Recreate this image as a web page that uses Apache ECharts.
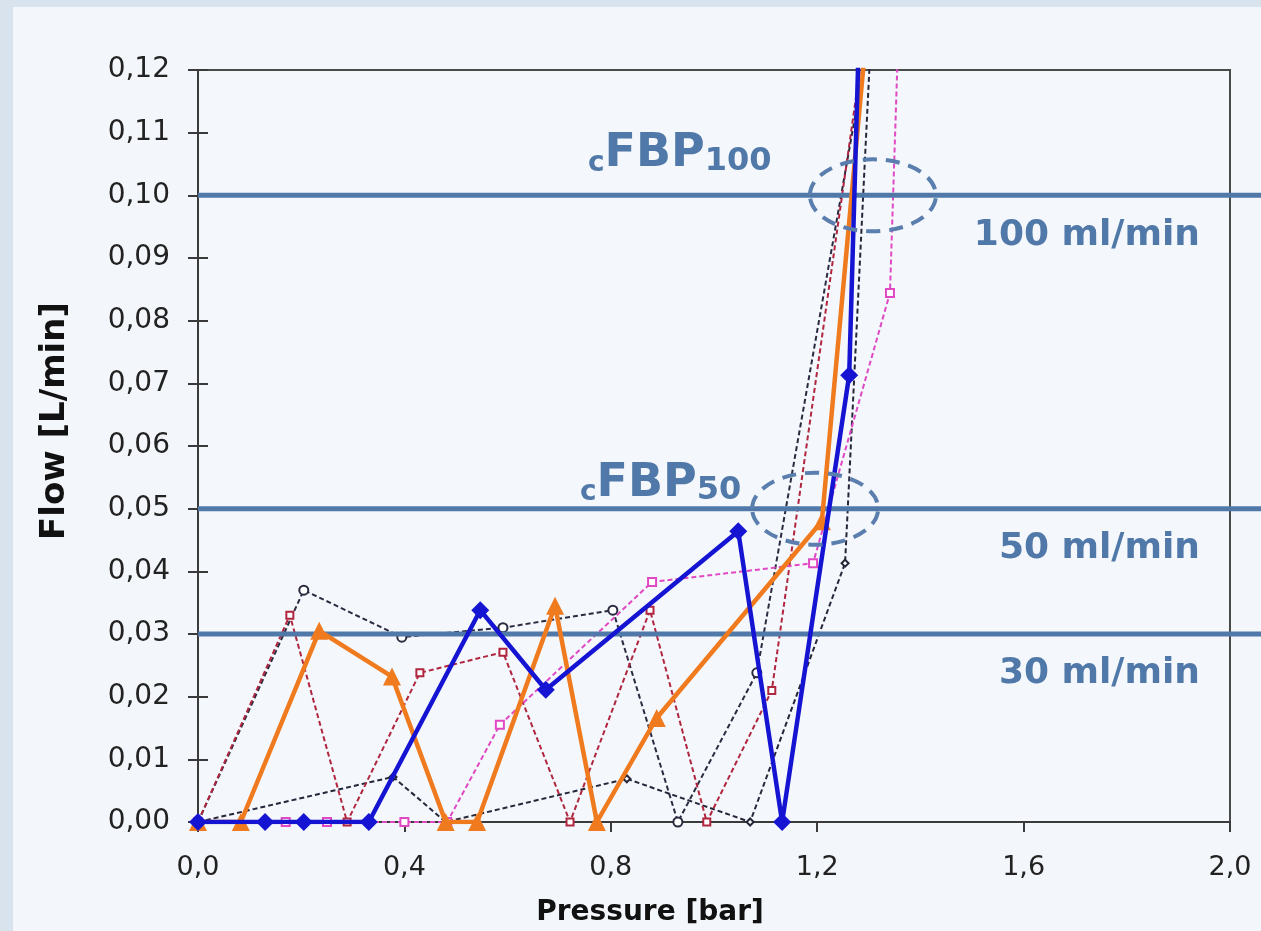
<!DOCTYPE html>
<html>
<head>
<meta charset="utf-8">
<script src="https://cdn.jsdelivr.net/npm/echarts@6/dist/echarts.min.js"></script>
<style>
  html, body { margin: 0; padding: 0; background: #d9e3ed; }
  #main { width: 1261px; height: 931px; }
</style>
</head>
<body>
<div id="main"></div>
<script>
// pressure [bar] / flow [L/min]
const blueX = [0, 0.13, 0.205, 0.331, 0.547, 0.674, 1.047, 1.132, 1.262, 1.30];
const blueY = [0, 0, 0, 0, 0.0338, 0.0211, 0.0464, 0, 0.0713, 0.18];

const orangeX = [0, 0.083, 0.235, 0.376, 0.48, 0.541, 0.692, 0.773, 0.889, 1.209, 1.30];
const orangeY = [0, 0, 0.0305, 0.0232, 0, 0, 0.0345, 0, 0.0166, 0.048, 0.13];

const circleX = [0, 0.205, 0.395, 0.591, 0.804, 0.93, 1.083, 1.30];
const circleY = [0, 0.037, 0.0295, 0.031, 0.0338, 0, 0.0238, 0.125];

const redX = [0, 0.178, 0.289, 0.43, 0.591, 0.721, 0.876, 0.986, 1.112, 1.30];
const redY = [0, 0.033, 0, 0.0238, 0.0271, 0, 0.0338, 0, 0.021, 0.13];

const pinkX = [0, 0.17, 0.25, 0.40, 0.483, 0.585, 0.88, 1.192, 1.341, 1.37];
const pinkY = [0, 0, 0, 0, 0, 0.0155, 0.0383, 0.0413, 0.0844, 0.158];

const darkX = [0, 0.378, 0.48, 0.831, 1.07, 1.254, 1.31];
const darkY = [0, 0.0072, 0, 0.0069, 0, 0.0413, 0.135];

// reference flows
const refLevels = [0.10, 0.05, 0.03];
const refLabels = ['100 ml/min', '50 ml/min', '30 ml/min'];
// circled crossing points
const cfbpPoints = [[1.308, 0.100], [1.196, 0.050]];

const steel = '#5078a8';
const font = 'DejaVu Sans, Verdana, sans-serif';

function pairs(xs, ys) {
  return xs.map((x, i) => [x, ys[i]]);
}

const chart = echarts.init(document.getElementById('main'));

function dashed(name, xs, ys, color, symbol, size) {
  return {
    name: name,
    type: 'line',
    data: pairs(xs, ys),
    symbol: symbol,
    symbolSize: size,
    showAllSymbol: true,
    lineStyle: { color: color, width: 2, type: [5, 3] },
    itemStyle: { color: color, borderWidth: 1.2 },
    z: 2
  };
}

const option = {
  animation: false,
  grid: [
    {
      left: 198, top: 70, right: 31, bottom: 109,
      show: true, backgroundColor: '#f4f7fb',
      borderColor: '#4a4a4a', borderWidth: 2
    },
    { left: 198, top: 70, right: 0, bottom: 109 }
  ],
  xAxis: [
    {
      type: 'value', gridIndex: 0, min: 0, max: 2, interval: 0.4,
      axisLine: { lineStyle: { color: '#3a3a3a', width: 2 } },
      axisTick: { show: true, length: 10, lineStyle: { color: '#3a3a3a', width: 2 } },
      splitLine: { show: false },
      axisLabel: {
        fontFamily: font, fontSize: 27, color: '#222', margin: 32,
        formatter: v => v.toFixed(1).replace('.', ',')
      }
    },
    {
      type: 'value', gridIndex: 0, min: 0, max: 2, interval: 0.4,
      axisLine: { show: false },
      axisTick: { show: true, inside: true, length: 10, lineStyle: { color: '#3a3a3a', width: 2 } },
      axisLabel: { show: false }, splitLine: { show: false }
    },
    { type: 'value', gridIndex: 1, min: 0, max: 1, show: false }
  ],
  yAxis: [
    {
      type: 'value', gridIndex: 0, min: 0, max: 0.12, interval: 0.01,
      axisLine: { show: true, lineStyle: { color: '#3a3a3a', width: 2 } },
      axisTick: { show: true, length: 10, lineStyle: { color: '#3a3a3a', width: 2 } },
      splitLine: { show: false },
      axisLabel: {
        fontFamily: font, fontSize: 28, color: '#222', margin: 28,
        formatter: v => v.toFixed(2).replace('.', ',')
      }
    },
    {
      type: 'value', gridIndex: 0, min: 0, max: 0.12, interval: 0.01, position: 'left',
      axisLine: { show: false },
      axisTick: { show: true, inside: true, length: 10, lineStyle: { color: '#3a3a3a', width: 2 } },
      axisLabel: { show: false }, splitLine: { show: false }
    },
    { type: 'value', gridIndex: 1, min: 0, max: 0.12, show: false }
  ],
  series: [
    dashed('dark', darkX, darkY, '#26263a', 'emptyDiamond', 7),
    dashed('circles', circleX, circleY, '#2a2a40', 'emptyCircle', 9),
    dashed('red', redX, redY, '#b0263e', 'emptyRect', 7),
    dashed('pink', pinkX, pinkY, '#e048c4', 'emptyRect', 8)
  ].concat(refLevels.map((lv, i) => ({
    name: refLabels[i],
    type: 'line',
    xAxisIndex: 2, yAxisIndex: 2,
    data: [[0, lv], [1, lv]],
    symbol: 'none',
    lineStyle: { color: steel, width: 5 },
    z: 3
  }))).concat([
    {
      name: 'orange', type: 'line', data: pairs(orangeX, orangeY),
      symbol: 'triangle', symbolSize: 18,
      lineStyle: { color: '#f07a1e', width: 4.5 },
      itemStyle: { color: '#f07a1e' },
      z: 4
    },
    {
      name: 'blue', type: 'line', data: pairs(blueX, blueY),
      symbol: 'diamond', symbolSize: 18,
      lineStyle: { color: '#1414d2', width: 4.5 },
      itemStyle: { color: '#1414d2' },
      z: 5
    }
  ])
};

chart.setOption(option);

// annotations placed after layout
const graphics = [
  {
    type: 'rect', z: -100, silent: true,
    shape: { x: 13, y: 7, width: 1248, height: 924 },
    style: { fill: '#f3f6fa' }
  },
  {
    type: 'text', z: 100,
    style: {
      x: 650, y: 913, text: 'Pressure [bar]',
      textAlign: 'center', textVerticalAlign: 'middle',
      font: 'bold 28px ' + font, fill: '#111'
    }
  },
  {
    type: 'text', z: 100, x: 55, y: 421, rotation: Math.PI / 2,
    style: {
      x: 0, y: 0, text: 'Flow [L/min]',
      textAlign: 'center', textVerticalAlign: 'middle',
      font: 'bold 34px ' + font, fill: '#111'
    }
  }
];

cfbpPoints.forEach(p => {
  const c = chart.convertToPixel({ gridIndex: 0 }, p);
  graphics.push({
    type: 'ellipse', z: 100,
    shape: { cx: c[0], cy: c[1], rx: 63, ry: 36 },
    style: { fill: 'none', stroke: '#5a7ead', lineWidth: 4, lineDash: [14, 9] }
  });
});

refLevels.forEach((lv, i) => {
  const c = chart.convertToPixel({ gridIndex: 0 }, [2, lv]);
  graphics.push({
    type: 'text', z: 100,
    style: {
      x: 1200, y: c[1] + 40, text: refLabels[i],
      textAlign: 'right', textVerticalAlign: 'middle',
      font: 'bold 36px ' + font, fill: steel
    }
  });
});

const richFBP = {
  a: { fontFamily: font, fontWeight: 'bold', fontSize: 28, fill: steel, verticalAlign: 'bottom', lineHeight: 46 },
  b: { fontFamily: font, fontWeight: 'bold', fontSize: 46, fill: steel, verticalAlign: 'bottom', lineHeight: 46 },
  c: { fontFamily: font, fontWeight: 'bold', fontSize: 32, fill: steel, verticalAlign: 'bottom', lineHeight: 46 }
};
[['100', 0.10, 588, -18], ['50', 0.05, 580, -2]].forEach(t => {
  const c = chart.convertToPixel({ gridIndex: 0 }, [0, t[1]]);
  graphics.push({
    type: 'text', z: 100,
    style: {
      x: t[2], y: c[1] + t[3], text: '{a|c}{b|FBP}{c|' + t[0] + '}',
      textAlign: 'left', textVerticalAlign: 'bottom',
      rich: richFBP
    }
  });
});

chart.setOption({ graphic: graphics });
</script>
</body>
</html>
